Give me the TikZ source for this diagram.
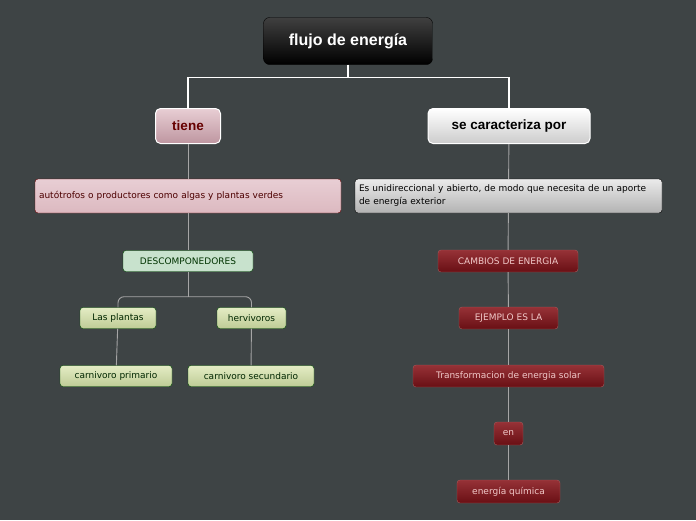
\documentclass[tikz,border=0pt]{standalone}
\usepackage{fontspec}
\setmainfont{DejaVu Sans}
\newfontfamily\headfont{Liberation Sans}
\definecolor{bgc}{RGB}{62,68,69}
\definecolor{pinkT}{RGB}{232,206,212}
\definecolor{pinkB}{RGB}{190,150,160}
\definecolor{pinkF}{RGB}{220,185,192}
\definecolor{oliveT}{RGB}{228,236,196}
\definecolor{oliveB}{RGB}{190,204,150}
\definecolor{mintF}{RGB}{200,226,205}
\definecolor{redT}{RGB}{150,50,55}
\definecolor{redB}{RGB}{105,15,20}
\definecolor{redTxt}{RGB}{240,200,200}
\begin{document}
\begin{tikzpicture}[x=1pt,y=-1pt,
 base/.style={rounded corners=3pt,inner sep=0pt,align=center},
 titlebox/.style={base,draw=black,top color=black!75,bottom color=black,text=white,font=\headfont\fontsize{16}{18}\selectfont\bfseries,minimum width=169pt,minimum height=47pt,rounded corners=6pt},
 pinkbig/.style={base,draw=white,line width=1pt,top color=pinkT,bottom color=pinkB,text=red!40!black,font=\headfont\fontsize{13.5}{14}\selectfont\bfseries,minimum height=35pt,rounded corners=5pt},
 whitebig/.style={base,draw=white,line width=1pt,top color=white,bottom color=black!20,text=black,font=\headfont\fontsize{13.5}{14}\selectfont\bfseries,minimum height=35pt,rounded corners=5pt},
 pinkbox/.style={base,draw=red!40!black,top color=pinkT,bottom color=pinkF,text=red!30!black,font=\fontsize{9}{13}\selectfont,minimum width=306pt,minimum height=34pt,text width=298pt,align=left},
 graybox/.style={base,draw=black,top color=black!8,bottom color=black!30,text=black,font=\fontsize{9}{13}\selectfont,minimum width=307pt,minimum height=34pt,text width=299pt,align=left},
 mint/.style={base,draw=green!30!black,fill=mintF,text=green!20!black,font=\fontsize{9}{10}\selectfont,minimum height=21pt},
 olive/.style={base,draw=green!30!black,top color=oliveT,bottom color=oliveB,text=green!15!black,font=\fontsize{9}{10}\selectfont,minimum height=21pt},
 redb/.style={base,draw=red!30!gray,top color=redT,bottom color=redB,text=redTxt,font=\fontsize{9}{10}\selectfont,minimum height=22pt},
 wl/.style={draw=white,line width=1.2pt},
 gl/.style={draw=black!35,line width=0.9pt}]
\fill[bgc] (0,0) rectangle (696,520);
\node[titlebox] (t) at (348,41) {flujo de energía};
\node[pinkbig,minimum width=65pt] (a) at (188,126) {tiene};
\node[whitebig,minimum width=162pt] (b) at (509,126) {se caracteriza por};
\node[pinkbox] (a1) at (188,196) {\hyphenpenalty=10000 autótrofos o productores como algas y plantas verdes};
\node[graybox] (b1) at (508.5,196) {\hyphenpenalty=10000 Es unidireccional y abierto, de modo que necesita de un aporte de energía exterior};
\node[mint,minimum width=130pt] (d) at (188,261) {DESCOMPONEDORES};
\node[olive,minimum width=76pt] (p) at (118,318) {Las plantas};
\node[olive,minimum width=69pt] (h) at (251.5,318) {hervivoros};
\node[olive,minimum width=112pt] (cp) at (116,376) {carnivoro primario};
\node[olive,minimum width=126pt] (cs) at (251,376) {carnivoro secundario};
\node[redb,minimum width=140pt] (c1) at (508,261) {CAMBIOS DE ENERGIA};
\node[redb,minimum width=99pt] (c2) at (508.5,318) {EJEMPLO ES LA};
\node[redb,minimum width=191pt] (c3) at (508.5,376) {Transformacion de energia solar};
\node[redb,minimum width=29pt,minimum height=23pt] (c4) at (508.5,433.5) {en};
\node[redb,minimum width=103pt,minimum height=23pt] (c5) at (508.5,491.5) {energía química};
\draw[wl] (t.south) -- ++(0,13) coordinate (tm);
\draw[wl] (a.north) |- (tm) -| (b.north);
\draw[gl] (a) -- (a1); \draw[gl] (b) -- (b1);
\draw[gl] (a1) -- (d); \draw[gl] (b1) -- (c1);
\draw[gl] (d.south) -- ++(0,25) coordinate (dm);
\draw[gl,rounded corners=6pt] (p.north) |- (dm) -| (h.north);
\draw[gl] (p) -- (cp); \draw[gl] (h) -- (cs);
\draw[gl] (c1) -- (c2); \draw[gl] (c2) -- (c3); \draw[gl] (c3) -- (c4); \draw[gl] (c4) -- (c5);
\end{tikzpicture}
\end{document}
